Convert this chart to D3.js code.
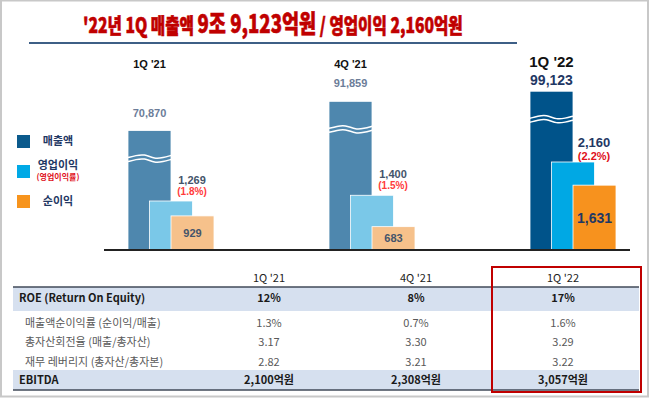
<!DOCTYPE html>
<html>
<head>
<meta charset="utf-8">
<script src="https://d3js.org/d3.v7.min.js"></script>
<style>
body { margin: 0; background: #fff; }
</style>
</head>
<body>
<script>
var W = 650, H = 398;

// data
var quarters = ["1Q '21", "4Q '21", "1Q '22"];
var sales = [70870, 91859, 99123];
var opProfit = [1269, 1400, 2160];
var opMargin = ["(1.8%)", "(1.5%)", "(2.2%)"];
var netIncome = [929, 683, 1631];

var rowLabels = ["ROE (Return On Equity)", "매출액순이익률 (순이익/매출)", "총자산회전율 (매출/총자산)", "재무 레버리지 (총자산/총자본)", "EBITDA"];
var roe = ["12%", "8%", "17%"];
var netMargin = ["1.3%", "0.7%", "1.6%"];
var assetTurnover = ["3.17", "3.30", "3.29"];
var leverage = ["2.82", "3.21", "3.22"];
var ebitda = ["2,100억원", "2,308억원", "3,057억원"];

var legendLabels = ["매출액", "영업이익", "순이익"];

var fadedColors = ["#4e87ae", "#7ac8e8", "#f6c18b"];
var mainColors = ["#00538a", "#00a8e4", "#f7921e"];

var svg = d3.select("body").append("svg")
  .attr("width", W)
  .attr("height", H)
  .style("display", "block");

// frame
svg.append("rect")
  .attr("x", 1).attr("y", 0.5).attr("width", 647).attr("height", 396)
  .attr("fill", "#fff").attr("stroke", "#c8c8c8").attr("stroke-width", 2);

// title
var title = svg.append("text")
  .attr("x", 83).attr("y", 33)
  .attr("fill", "#c00000")
  .attr("stroke", "#c00000").attr("stroke-width", 0.6)
  .style("font-family", "'Noto Sans CJK KR', sans-serif")
  .style("font-weight", 900);
title.append("tspan").style("font-size", "21px").text("'22년 1Q 매출액 ");
title.append("tspan").style("font-size", "25px").text("9조 9,123억원");
title.append("tspan").style("font-size", "21px").text(" / 영업이익 2,160억원");
var tb = title.node().getBBox();
title.attr("transform", "translate(83,0) scale(" + (380 / tb.width) + ",1) translate(-83,0)");

svg.append("line")
  .attr("x1", 29).attr("x2", 517).attr("y1", 43).attr("y2", 43)
  .attr("stroke", "#3d5f86").attr("stroke-width", 2);

// scales
var base = 250;
var bw = 43;
var x = d3.scalePoint().domain(quarters).range([171, 573]);
// broken axis for sales
var ySales = d3.scaleLinear().domain([-15000, 100000]).range([base, 90]);
var yProfit = d3.scaleLinear().domain([150, 2160]).range([base, 162]);

var groups = svg.selectAll("g.grp").data(quarters).enter().append("g")
  .attr("class", "grp");

groups.each(function(q, i) {
  var g = d3.select(this);
  var c = x(q);
  var cols = i === 2 ? mainColors : fadedColors;
  // sales
  g.append("rect")
    .attr("x", c - bw).attr("y", ySales(sales[i]))
    .attr("width", bw).attr("height", base - ySales(sales[i]))
    .attr("fill", cols[0]).attr("stroke", "#fff").attr("stroke-width", 0.8);
  // wave break
  var wy = ySales(sales[i]) + 26;
  var wave = d3.line().curve(d3.curveBasis);
  [0, 4].forEach(function(dy) {
    var pts = [[c - bw, wy + dy + 1], [c - bw + 8, wy + dy - 1], [c - bw + 16, wy + dy - 2.5], [c - bw + 27, wy + dy + 2.5], [c - bw + 35, wy + dy + 1], [c, wy + dy - 1]];
    g.append("path").attr("d", wave(pts))
      .attr("fill", "none").attr("stroke", "#fff").attr("stroke-width", 1.5);
  });
  // operating profit
  g.append("rect")
    .attr("x", c - bw / 2).attr("y", yProfit(opProfit[i]))
    .attr("width", bw).attr("height", base - yProfit(opProfit[i]))
    .attr("fill", cols[1]).attr("stroke", "#fff").attr("stroke-width", 0.8);
  // net income
  g.append("rect")
    .attr("x", c).attr("y", yProfit(netIncome[i]))
    .attr("width", bw).attr("height", base - yProfit(netIncome[i]))
    .attr("fill", cols[2]).attr("stroke", "#fff").attr("stroke-width", 0.8);

  var big = i === 2;
  // group title
  g.append("text")
    .attr("x", c - bw / 2).attr("y", big ? 67 : 68)
    .attr("text-anchor", "middle")
    .attr("fill", "#111")
    .style("font-family", "'Liberation Sans', Arial, sans-serif")
    .style("font-weight", "bold")
    .style("font-size", big ? "15px" : "11px")
    .text(q);
  // sales label
  g.append("text")
    .attr("x", c - bw / 2).attr("y", ySales(sales[i]) - (big ? 6 : 14))
    .attr("text-anchor", "middle")
    .attr("fill", big ? "#1f3864" : "#6c7d99")
    .style("font-family", "'Liberation Sans', Arial, sans-serif")
    .style("font-weight", "bold")
    .style("font-size", big ? "14px" : "11px")
    .text(d3.format(",")(sales[i]));
  // op profit label
  g.append("text")
    .attr("x", c + bw / 2 - 0.5).attr("y", yProfit(opProfit[i]) - (big ? 15 : 17))
    .attr("text-anchor", "middle")
    .attr("fill", big ? "#1f3864" : "#44546a")
    .style("font-family", "'Liberation Sans', Arial, sans-serif")
    .style("font-weight", "bold")
    .style("font-size", big ? "13px" : "11px")
    .text(d3.format(",")(opProfit[i]));
  g.append("text")
    .attr("x", c + bw / 2 - 0.5).attr("y", yProfit(opProfit[i]) - (big ? 2 : 6))
    .attr("text-anchor", "middle")
    .attr("fill", big ? "#e0101a" : "#ff3b3b")
    .style("font-family", "'Liberation Sans', Arial, sans-serif")
    .style("font-weight", "bold")
    .style("font-size", big ? "11px" : "10px")
    .text(opMargin[i]);
  // net income label
  var ny = yProfit(netIncome[i]);
  g.append("text")
    .attr("x", c + bw / 2).attr("y", (ny + base) / 2 + (big ? 5 : 4))
    .attr("text-anchor", "middle")
    .attr("fill", big ? "#1f3864" : "#44546a")
    .style("font-family", "'Liberation Sans', Arial, sans-serif")
    .style("font-weight", "bold")
    .style("font-size", big ? "14px" : "11px")
    .text(d3.format(",")(netIncome[i]));
});

// baseline
svg.append("line")
  .attr("x1", 104).attr("x2", 630).attr("y1", base).attr("y2", base)
  .attr("stroke", "#222").attr("stroke-width", 2);

// legend
var legY = d3.scalePoint().domain(legendLabels).range([141, 201]);
var leg = svg.selectAll("g.leg").data(legendLabels).enter().append("g").attr("class", "leg");
leg.append("rect")
  .attr("x", 17).attr("y", function(d) { return legY(d) - 6; })
  .attr("width", 13).attr("height", 13)
  .attr("fill", function(d, i) { return ["#0b5a8c", "#00a9e6", "#f7941d"][i]; });
leg.append("text")
  .attr("x", 58).attr("y", function(d, i) { return legY(d) + (i === 1 ? -2 : 4); })
  .attr("text-anchor", "middle")
  .attr("fill", "#1f3864")
  .style("font-family", "'Noto Sans CJK KR', sans-serif")
  .style("font-weight", "bold")
  .style("font-size", "11px")
  .text(function(d) { return d; });
svg.append("text")
  .attr("x", 58).attr("y", 180)
  .attr("text-anchor", "middle")
  .attr("fill", "#e0101a")
  .style("font-family", "'Noto Sans CJK KR', sans-serif")
  .style("font-weight", "bold")
  .style("font-size", "8px")
  .text("(영업이익률)");

// table
var tx = d3.scalePoint().domain(quarters).range([269, 563]);
var rowY = [298, 323, 342, 362, 380];
var rowVals = [roe, netMargin, assetTurnover, leverage, ebitda];
var tFont = "'Noto Sans CJK KR', sans-serif";

svg.append("rect").attr("x", 13).attr("y", 287).attr("width", 626).attr("height", 24).attr("fill", "#d6e0ef");
svg.append("rect").attr("x", 13).attr("y", 370).attr("width", 626).attr("height", 20).attr("fill", "#d6e0ef");
svg.append("line").attr("x1", 13).attr("x2", 639).attr("y1", 287).attr("y2", 287)
  .attr("stroke", "#404a58").attr("stroke-width", 1.5);
svg.append("line").attr("x1", 13).attr("x2", 639).attr("y1", 390).attr("y2", 390)
  .attr("stroke", "#404a58").attr("stroke-width", 1.5);

svg.selectAll("text.hdr").data(quarters).enter().append("text")
  .attr("class", "hdr")
  .attr("x", function(d) { return tx(d); }).attr("y", 282)
  .attr("text-anchor", "middle")
  .attr("fill", "#222")
  .style("font-family", tFont).style("font-size", "11px")
  .text(function(d) { return d; });

rowLabels.forEach(function(lbl, r) {
  var strong = r === 0 || r === 4;
  svg.append("text")
    .attr("x", strong ? 19 : 25).attr("y", rowY[r] + 4)
    .attr("fill", strong ? "#1a1a1a" : "#595959")
    .style("font-family", tFont).style("font-size", "11px")
    .style("font-weight", strong ? "bold" : "normal")
    .text(lbl);
  svg.selectAll(null).data(rowVals[r]).enter().append("text")
    .attr("x", function(d, i) { return tx(quarters[i]); }).attr("y", rowY[r] + 4)
    .attr("text-anchor", "middle")
    .attr("fill", strong ? "#1a1a1a" : "#595959")
    .style("font-family", tFont).style("font-size", "11px")
    .style("font-weight", strong ? "bold" : "normal")
    .text(function(d) { return d; });
});

// highlight box
svg.append("rect")
  .attr("x", 492).attr("y", 267).attr("width", 149).attr("height", 125)
  .attr("fill", "none").attr("stroke", "#c00000").attr("stroke-width", 2);
</script>
</body>
</html>
